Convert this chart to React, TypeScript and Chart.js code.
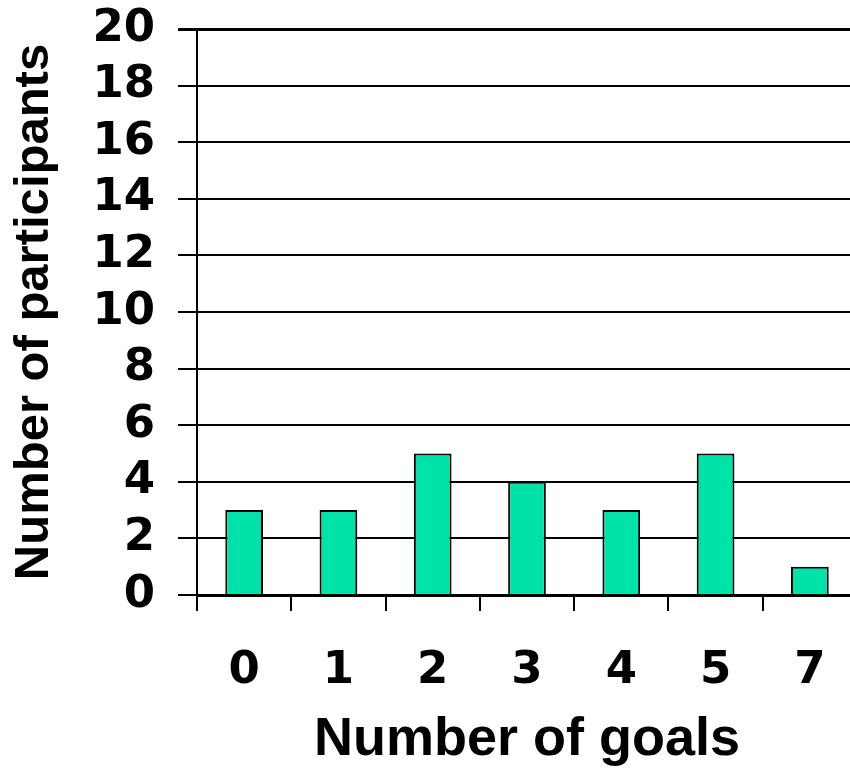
import React, { useEffect, useRef } from "react";
import { Chart, registerables } from "chart.js";

Chart.register(...registerables);

const goalCategories = ["0", "1", "2", "3", "4", "5", "7"];
const participantCounts = [3, 3, 5, 4, 3, 5, 1];
const yTickMax = 20;
const yTickStep = 2;
const xTitle = "Number of goals";
const yTitle = "Number of participants";

const TICK_FONT = "'DejaVu Sans', Verdana, sans-serif";
const TITLE_FONT = "'Liberation Sans', Arial, sans-serif";

export default function App() {
  const canvasRef = useRef<HTMLCanvasElement | null>(null);

  useEffect(() => {
    const canvas = canvasRef.current;
    if (!canvas) return;
    const chart = new Chart(canvas, {
      type: "bar",
      data: {
        labels: goalCategories,
        datasets: [
          {
            data: participantCounts,
            backgroundColor: "#00E3A8",
            borderColor: "#000000",
            borderWidth: 2,
            barPercentage: 0.4,
            categoryPercentage: 1,
          },
        ],
      },
      options: {
        animation: false,
        responsive: false,
        maintainAspectRatio: false,
        devicePixelRatio: 1,
        layout: { padding: { top: 29, right: 13, left: 0, bottom: 0 } },
        plugins: {
          legend: { display: false },
          tooltip: { enabled: false },
        },
        scales: {
          x: {
            afterFit: (scale: any) => {
              scale.height = 178;
            },
            border: { display: true, color: "#000000", width: 3 },
            grid: {
              offset: true,
              drawOnChartArea: false,
              drawTicks: true,
              tickLength: 16,
              color: "#000000",
              lineWidth: 2,
            },
            ticks: {
              color: "#000000",
              padding: 33,
              font: { family: TICK_FONT, size: 45, weight: "bold", lineHeight: 1.2 },
            },
            title: {
              display: true,
              text: xTitle,
              color: "#000000",
              padding: { top: 0, bottom: 0 },
              font: { family: TITLE_FONT, size: 54, weight: "bold", lineHeight: 1.2 },
            },
          },
          y: {
            min: 0,
            max: yTickMax,
            afterFit: (scale: any) => {
              scale.width = 197;
              scale.paddingTop = 0;
              scale.paddingBottom = 0;
            },
            border: { display: true, color: "#000000", width: 2 },
            grid: {
              color: "#000000",
              lineWidth: (ctx: any) => (ctx.tick && ctx.tick.value === yTickMax ? 3 : 2),
              drawTicks: true,
              tickLength: 19,
            },
            ticks: {
              stepSize: yTickStep,
              color: "#000000",
              padding: 23,
              font: { family: TICK_FONT, size: 45, weight: "bold", lineHeight: 1 },
            },
            title: {
              display: true,
              text: yTitle,
              color: "#000000",
              padding: { top: 5, bottom: 0 },
              font: { family: TITLE_FONT, size: 49, weight: "bold", lineHeight: 1.2 },
            },
          },
        },
      },
    } as any);
    return () => chart.destroy();
  }, []);

  return (
    <div
      style={{
        position: "absolute",
        left: 0,
        top: 0,
        width: 850,
        height: 773,
        overflow: "hidden",
        background: "#ffffff",
      }}
    >
      <canvas ref={canvasRef} width={870} height={773} style={{ width: 870, height: 773, display: "block" }} />
    </div>
  );
}
